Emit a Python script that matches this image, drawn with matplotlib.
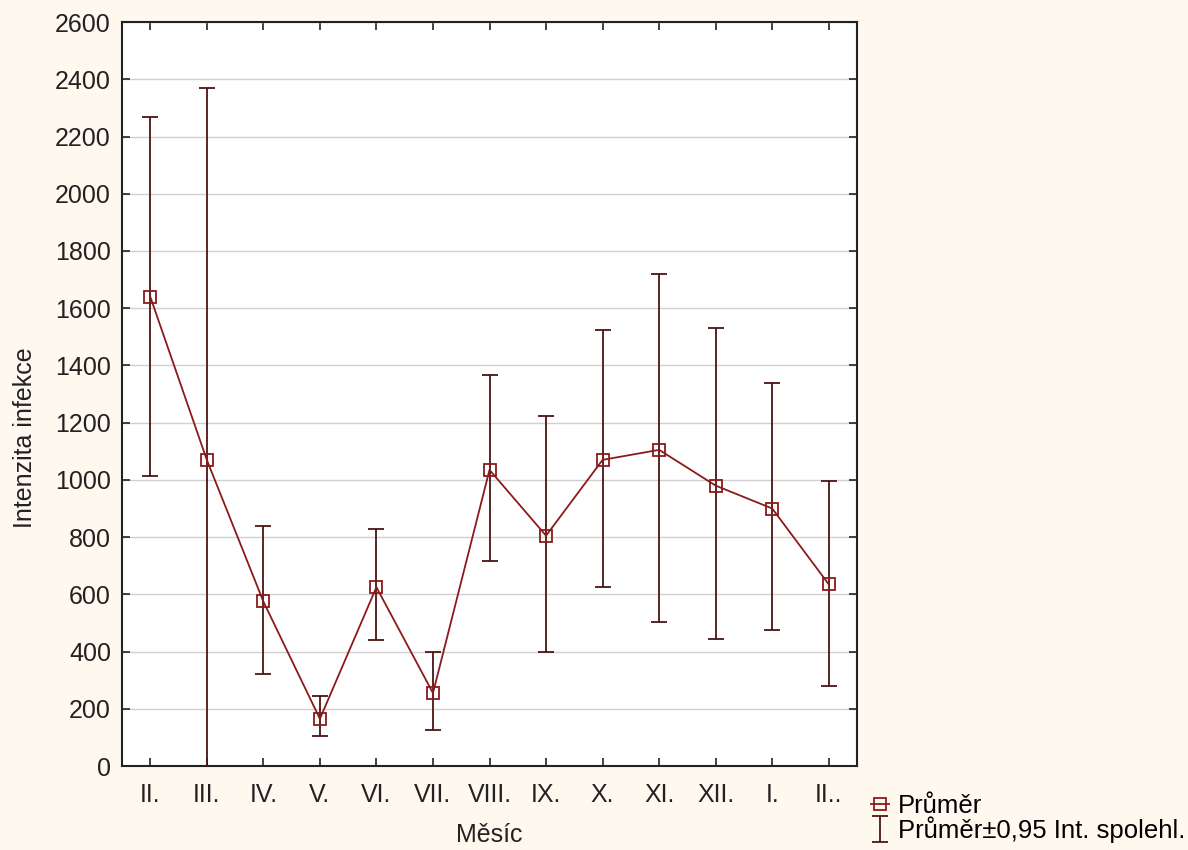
import matplotlib.pyplot as plt
import numpy as np

months = ['II.', 'III.', 'IV.', 'V.', 'VI.', 'VII.', 'VIII.', 'IX.', 'X.', 'XI.', 'XII.', 'I.', 'II..']
mean = [1640, 1070, 575, 165, 625, 255, 1035, 805, 1070, 1105, 980, 900, 635]
upper = [2270, 2370, 840, 245, 830, 400, 1365, 1225, 1525, 1720, 1530, 1340, 995]
lower = [1015, -235, 320, 105, 440, 125, 715, 400, 625, 505, 445, 475, 280]

line_col = '#8b1a1a'
err_col = '#4a1414'
bg = '#fff8ee'

plt.rcParams['font.family'] = ['Liberation Sans', 'DejaVu Sans']

fig = plt.figure(figsize=(11.88, 8.5), dpi=100, facecolor=bg)
ax = fig.add_axes([0.1027, 0.0988, 0.6187, 0.8752])
ax.set_facecolor('white')

x = np.arange(len(months))
m = np.array(mean)
yerr = [m - np.array(lower), np.array(upper) - m]

eb = ax.errorbar(x, m, yerr=yerr, fmt='none', ecolor=err_col, elinewidth=1.3,
                 capsize=6, capthick=1.3, zorder=2)
ln, = ax.plot(x, m, color=line_col, lw=1.3, marker='s', markersize=8,
              markerfacecolor='none', markeredgecolor=line_col, markeredgewidth=1.3, zorder=3)

ax.set_xlim(-0.5, len(months) - 0.5)
ax.set_ylim(0, 2600)
ax.set_yticks(np.arange(0, 2601, 200))
ax.set_xticks(x)
ax.set_xticklabels(months)
ax.yaxis.grid(True, color='#d0d0d0', lw=1)
ax.set_axisbelow(True)
ax.tick_params(direction='in', top=True, right=True, length=6, width=1.2,
               labelsize=18, colors='#222222', pad=12)
ax.tick_params(axis='y', pad=8)
for s in ax.spines.values():
    s.set_linewidth(1.5)
    s.set_color('#222222')

ax.set_xlabel('Měsíc', fontsize=18, color='#222222', labelpad=12)
ax.set_ylabel('Intenzita infekce', fontsize=18, color='#222222', labelpad=13)
ax.yaxis.label.set_y(0.442)

fig.legend([ln, eb], ['Průměr', 'Průměr±0,95 Int. spolehl.'],
           loc='upper left', bbox_to_anchor=(0.733, 0.066), frameon=False,
           fontsize=18.5, labelspacing=-0.05, handlelength=0.7, handletextpad=0.35,
           borderpad=0, borderaxespad=0)

fig.savefig('out.png', dpi=100, facecolor=bg)
